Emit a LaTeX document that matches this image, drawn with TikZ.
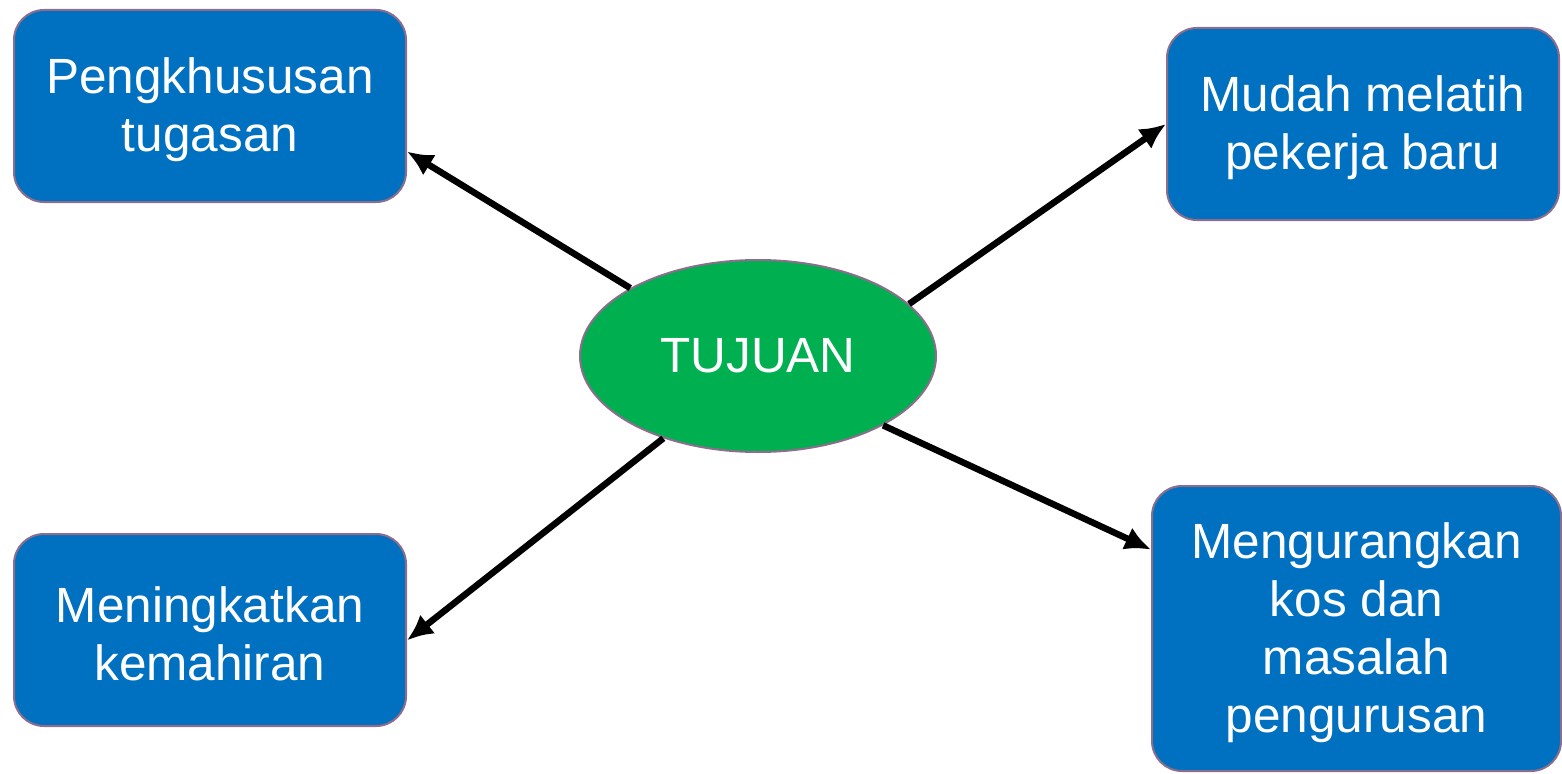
\documentclass[tikz,border=0pt]{standalone}
\usepackage{fontspec}
\setmainfont{Liberation Sans}
\usetikzlibrary{arrows.meta,shapes.geometric,calc}
\definecolor{boxblue}{HTML}{0070C0}
\definecolor{ovalgreen}{HTML}{00B050}
\definecolor{edgegrey}{RGB}{140,110,140}
\tikzset{
  bluebox/.style={draw=edgegrey, line width=2pt, fill=boxblue, rounded corners=30pt,
    text=white, align=center, inner sep=0pt,
    font=\fontsize{49.5}{58}\selectfont},
  oval/.style={ellipse, draw=edgegrey, line width=2pt, fill=ovalgreen, text=white,
    minimum width=356pt, minimum height=192pt, inner sep=0pt,
    font=\fontsize{49.5}{58}\selectfont},
  conn/.style={line width=6.5pt, -{Latex[length=26pt,width=24pt]}}
}
\begin{document}
\begin{tikzpicture}[x=1pt,y=-1pt]
\useasboundingbox (0,0) rectangle (1562,773);
\node[bluebox, minimum width=392pt, minimum height=192pt] (b1) at (210,106) {\rule{0pt}{44pt}Pengkhususan\\tugasan};
\node[bluebox, minimum width=392pt, minimum height=192pt] (b2) at (1363,124) {\rule{0pt}{44pt}Mudah melatih\\pekerja baru};
\node[bluebox, minimum width=392pt, minimum height=192pt] (b3) at (210,630) {\rule{0pt}{44pt}Meningkatkan\\kemahiran};
\node[bluebox, minimum width=409pt, minimum height=285pt] (b4) at (1356.5,628.5) {\rule{0pt}{44pt}Mengurangkan\\kos dan\\masalah\\pengurusan};
\node[oval] (t) at (758,356) {TUJUAN};
\draw[conn] (t.152) -- (b1.-13.5);
\draw[conn] (t.19.5) -- (b2.west);
\draw[conn] (t.-139) -- (b3.-3.2);
\draw[conn] (t.-29) -- (b4.159);
\end{tikzpicture}
\end{document}
